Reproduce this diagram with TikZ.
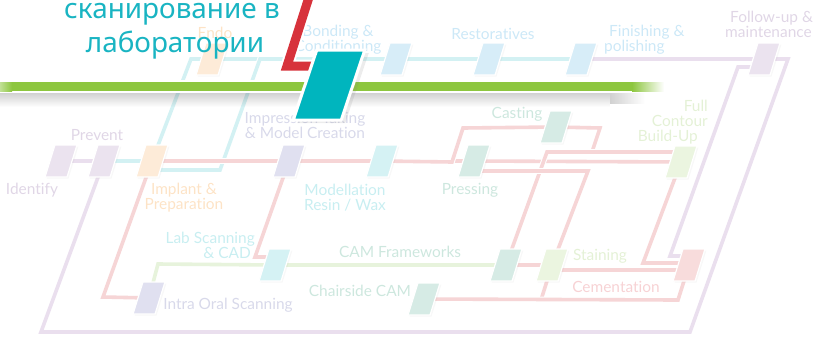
\documentclass[tikz,border=0pt]{standalone}
\usepackage{fontspec}
\setmainfont{Lato}[Ligatures=NoCommon]
\newfontfamily\titlefont{Noto Sans}
\usetikzlibrary{calc, backgrounds, shadows, fadings}

\definecolor{lavline}{HTML}{EADFEE}
\definecolor{cynline}{HTML}{D3F1F3}
\definecolor{redline}{HTML}{F6D5D6}
\definecolor{grnline}{HTML}{E7F3DC}
\definecolor{lavfill}{HTML}{EBE3EF}
\definecolor{orgfill}{HTML}{FDEBD8}
\definecolor{perfill}{HTML}{E0E0F0}
\definecolor{cynfill}{HTML}{D5F2F4}
\definecolor{tgrfill}{HTML}{D6EBE5}
\definecolor{lgrfill}{HTML}{EBF5E0}
\definecolor{bluefill}{HTML}{D7EDF8}
\definecolor{pinkfill}{HTML}{F8DCDC}
\definecolor{lavtext}{HTML}{E0D6E6}
\definecolor{orgtext}{HTML}{FDE3C6}
\definecolor{pertext}{HTML}{D8D9EA}
\definecolor{cyntext}{HTML}{C8EEF1}
\definecolor{tgrtext}{HTML}{CDE7DE}
\definecolor{lgrtext}{HTML}{E4F1D6}
\definecolor{bluetext}{HTML}{CCE8F7}
\definecolor{pinktext}{HTML}{F7D2D4}
\definecolor{bandgreen}{HTML}{8DC63F}
\definecolor{hubteal}{HTML}{00B5BE}
\definecolor{redL}{HTML}{D7323B}
\definecolor{titleteal}{HTML}{19B4C2}

\tikzset{
  stn/.style={draw=white, line width=1.2bp, fill=#1, minimum width=22bp, minimum height=32bp,
    inner sep=0pt, xslant=0.31, transform shape,
    drop shadow={opacity=0.06, shadow xshift=1.5bp, shadow yshift=-1.5bp}},
  track/.style={draw=white, line width=1bp, double=#1, double distance=3.6bp},
  lbl/.style={font=\fontsize{15.5}{15}\selectfont, text=#1, inner sep=0pt, align=center},
  hub/.style={draw=white, line width=3bp, fill=hubteal, minimum width=48bp, minimum height=70bp,
    inner sep=0pt, xslant=0.336, transform shape,
    drop shadow={opacity=0.15, shadow xshift=4bp, shadow yshift=-3bp}},
  titletext/.style={font=\titlefont\fontsize{28}{34}\selectfont, text=titleteal, inner sep=0pt}
}

\begin{document}
\begin{tikzpicture}[x=1bp, y=-1bp]
  \useasboundingbox (0,0) rectangle (815,341);

  % stations
  \node (identify)  [stn=lavfill] at (61,161) {};
  \node (prevent)   [stn=lavfill] at (104,161) {};
  \node (implant)   [stn=orgfill] at (152,161) {};
  \node (impress)   [stn=perfill] at (289,161) {};
  \node (model)     [stn=cynfill] at (382,161) {};
  \node (press)     [stn=tgrfill] at (474,161) {};
  \node (casting)   [stn=tgrfill] at (556,127) {};
  \node (fullc)     [stn=lgrfill] at (681,162) {};
  \node (endo)      [stn=orgfill] at (212,59) {};
  \node (bonding)   [stn=bluefill] at (396,59) {};
  \node (restor)    [stn=bluefill] at (489,59) {};
  \node (finish)    [stn=bluefill] at (581,59) {};
  \node (follow)    [stn=lavfill] at (764,59) {};
  \node (labscan)   [stn=cynfill] at (275,265) {};
  \node (camfw)     [stn=tgrfill] at (506,265) {};
  \node (stain)     [stn=lgrfill] at (552,265) {};
  \node (cement)    [stn=pinkfill] at (689,265) {};
  \node (intraoral) [stn=perfill] at (149,298) {};
  \node (chairside) [stn=tgrfill] at (424,299) {};

  % labels
  \node (identify-l) [lbl=lavtext] at (32,190) {Identify};
  \node (prevent-l)  [lbl=lavtext] at (97,135) {Prevent};
  \node (endo-l)     [lbl=orgtext] at (215,33) {Endo};
  \node (bonding-l)  [lbl=bluetext] at (338,39.5) {Bonding \&\\Conditioning};
  \node (restor-l)   [lbl=bluetext] at (493,34) {Restoratives};
  \node (finish-l)   [lbl=bluetext, align=left, anchor=west] at (604,39.5) {\hspace*{5bp}Finishing \&\\polishing};
  \node (follow-l)   [lbl=lavtext, align=left, anchor=west] at (725,24.5) {\hspace*{5bp}Follow-up \&\\maintenance};
  \node (impress-l)  [lbl=pertext] at (305,125.5) {Impression Taking\\\& Model Creation};
  \node (implant-l)  [lbl=orgtext] at (184,197.5) {Implant \&\\Preparation};
  \node (model-l)    [lbl=cyntext] at (345,197.5) {Modellation\\Resin / Wax};
  \node (press-l)    [lbl=tgrtext] at (470,190) {Pressing};
  \node (casting-l)  [lbl=tgrtext] at (517,114) {Casting};
  \node (fullc-l)    [lbl=lgrtext, align=right, anchor=east] at (708,122) {Full\\Contour\hspace*{5bp}\\Build-Up\hspace*{10bp}};
  \node (labscan-l)  [lbl=cyntext, align=right, anchor=east] at (255,245) {Lab Scanning\\\& CAD\hspace*{4bp}};
  \node (camfw-l)    [lbl=tgrtext] at (400,252) {CAM Frameworks};
  \node (intraoral-l)[lbl=pertext] at (228,305) {Intra Oral Scanning};
  \node (chairside-l)[lbl=tgrtext] at (360,291) {Chairside CAM};
  \node (stain-l)    [lbl=lgrtext] at (600,256) {Staining};
  \node (cement-l)   [lbl=pinktext] at (616,287) {Cementation};

  % tracks
  \begin{scope}[on background layer]
    \draw[track=lavline] (identify.center) -- (prevent.center);
    \draw[track=lavline] (prevent.center) -- (41,332) -- (690,332) -- (788,59) -- (follow.center);
    \draw[track=lavline] (finish.center) -- (follow.center);
    \draw[track=lavline] ($(follow.center)+(0,8)$) -- (738,67) -- (670,256) -- ($(cement.center)+(0,-9)$);
    \draw[track=cynline] (prevent.center) -- (implant.center);
    \draw[track=cynline] (implant.center) -- (191,59) -- (finish.center);
    \draw[track=cynline] ($(implant.center)+(0,9)$) -- (220,170) -- (260,59) -- (bonding.center);
    \draw[track=redline] (implant.center) -- (impress.center) -- (model.center) -- (press.center) -- (fullc.center);
    \draw[track=redline] (model.center) -- (452,162) -- (463,128) -- (casting.center) -- (600,128) -- (592,152) -- ($(fullc.center)+(0,-10)$);
    \draw[track=redline] (camfw.center) -- (547,152) -- ($(fullc.center)+(0,-10)$);
    \draw[track=redline] ($(press.center)+(0,10)$) -- (588,171) -- (stain.center);
    \draw[track=redline] (camfw.center) -- (stain.center);
    \draw[track=redline] ($(stain.center)+(0,5)$) -- ($(cement.center)+(0,5)$);
    \draw[track=redline] (fullc.center) -- (643,263) -- ($(cement.center)+(0,-2)$);
    \draw[track=redline] (stain.center) -- (541,300);
    \draw[track=redline] (chairside.center) -- (678,300) -- (cement.center);
    \draw[track=redline] (implant.center) -- (103,297) -- (intraoral.center);
    \draw[track=redline] (impress.center) -- (255,257) -- ($(labscan.center)+(0,-8)$);
    \draw[track=grnline] (intraoral.center) -- (158,264) -- (labscan.center) -- (camfw.center);
  \end{scope}

  % green band and its shadow
  \fill[white] (0,80) rectangle (640,93);
  \fill[black, opacity=0.18, path fading=south] (0,93) rectangle (610,107);
  \fill[black, opacity=0.18, path fading=east] (610,93) rectangle (645,104);
  \fill[bandgreen] (12,82) rectangle (632,91);
  \shade[left color=bandgreen!55, right color=bandgreen] (0,82) rectangle (12,91);
  \shade[left color=bandgreen, right color=white] (632,82) rectangle (664,91);

  % red line into the hub
  \coordinate (redtop) at (310,-6);
  \coordinate (redin) at (314,66);
  \draw[draw=white, line width=2bp, double=redL, double distance=9bp] (redtop) -- (287,66) -- (redin);
  \node (hub) [hub] at (329,85) {};

  % title
  \node (title1) [titletext, anchor=base] at (172,18) {сканирование в};
  \node (title2) [titletext, anchor=base] at (175,52) {лаборатории};
\end{tikzpicture}
\end{document}
